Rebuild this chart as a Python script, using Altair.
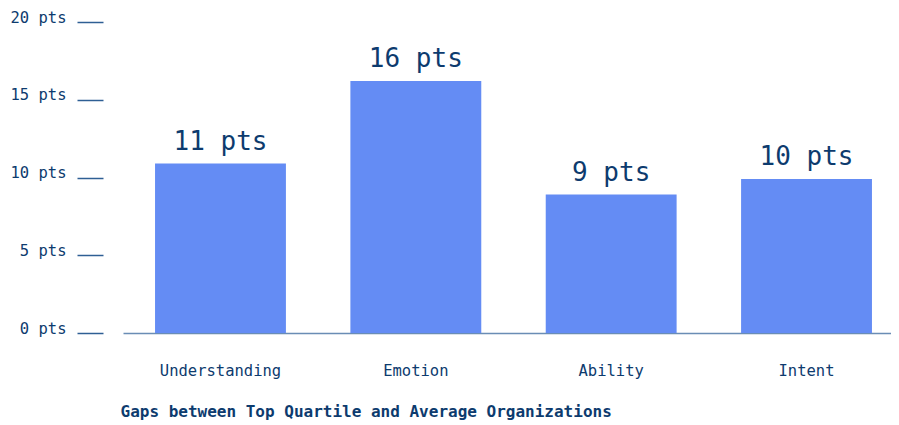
import altair as alt
import pandas as pd

categories = ["Understanding", "Emotion", "Ability", "Intent"]
values = [10.9, 16.2, 8.9, 9.9]
labels = ["11 pts", "16 pts", "9 pts", "10 pts"]
y_ticks = [0, 5, 10, 15, 20]

df = pd.DataFrame({"category": categories, "value": values, "label": labels})

FONT = "DejaVu Sans Mono"
NAVY = "#0d3b6e"

x_enc = alt.X(
    "category:N",
    sort=categories,
    scale=alt.Scale(paddingInner=0.33, paddingOuter=0.164, range=[0, 781]),
    axis=alt.Axis(
        title="Gaps between Top Quartile and Average Organizations",
        titleAnchor="start",
        titleAlign="left",
        titleX=-3,
        titleFont=FONT,
        titleFontSize=16,
        titleFontWeight="bold",
        titleColor=NAVY,
        titlePadding=25,
        labelAngle=0,
        labelFont=FONT,
        labelFontSize=15.5,
        labelColor=NAVY,
        labelPadding=30,
        ticks=False,
        domainColor="#6a8db5",
        domainWidth=1.5,
    ),
)

bars = alt.Chart(df).mark_bar(color="#648cf4").encode(
    x=x_enc,
    y=alt.Y(
        "value:Q",
        scale=alt.Scale(domain=[0, 20], nice=False),
        axis=alt.Axis(
            title=None,
            values=y_ticks,
            labelExpr="datum.value + ' pts'",
            labelFont=FONT,
            labelFontSize=15.5,
            labelColor=NAVY,
            labelPadding=11,
            labelOffset=-5,
            offset=20,
            tickSize=26,
            tickColor="#2e5f94",
            tickWidth=1.5,
            domain=False,
            grid=False,
        ),
    ),
)

text = alt.Chart(df).mark_text(
    font=FONT, fontSize=26, color=NAVY, baseline="alphabetic", dy=-14
).encode(
    x=alt.X("category:N", sort=categories),
    y="value:Q",
    text="label:N",
)

chart = (
    alt.layer(bars, text)
    .properties(
        width=768,
        height=311,
        autosize=alt.AutoSizeParams(type="none"),
        padding={"left": 115, "top": 14, "right": 0, "bottom": 90},
    )
    .configure_view(stroke=None, clip=False)
)

chart.save("out.html", embed_options={"renderer": "svg", "actions": False})
